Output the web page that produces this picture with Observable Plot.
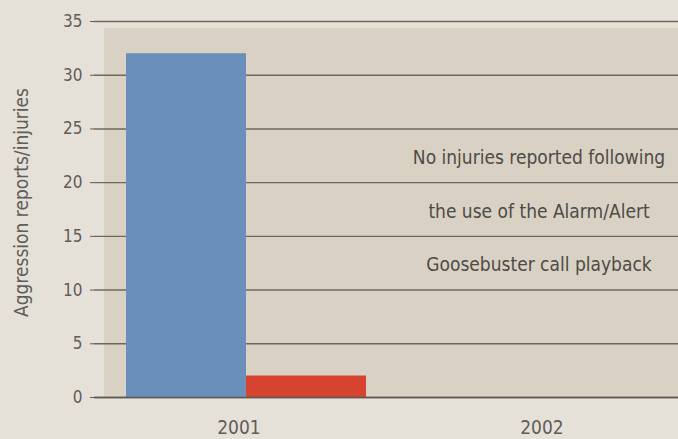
<!DOCTYPE html>
<html><head><meta charset="utf-8">
<script src="https://cdn.jsdelivr.net/npm/d3@7"></script>
<script src="https://cdn.jsdelivr.net/npm/@observablehq/plot@0.6"></script>
<style>
html,body{margin:0;padding:0;background:#e6e1d8;overflow:hidden;}
#chart{width:678px;height:439px;overflow:hidden;}
#chart svg{max-width:none !important;}
</style></head><body><div id="chart"></div>
<script>
const years = ["2001", "2002"];
const series = ["Aggression reports", "Injuries"];
const aggressionValues = [32, null];
const injuryValues = [2, null];
const yTicks = [0, 5, 10, 15, 20, 25, 30, 35];
const yLabel = "Aggression reports/injuries";
const notes = ["No injuries reported following", "the use of the Alarm/Alert", "Goosebuster call playback"];
const noteY = [22.5, 17.5, 12.5];
const seriesColors = ["#6a8fbb", "#d6432f"];

const data = [];
years.forEach((yr, i) => {
  if (aggressionValues[i] != null) data.push({year: yr, series: series[0], value: aggressionValues[i]});
  if (injuryValues[i] != null) data.push({year: yr, series: series[1], value: injuryValues[i]});
});
const noteData = notes.map((t, i) => ({year: years[1], text: t, y: noteY[i]}));

const font = "'DejaVu Sans Condensed', 'Liberation Sans Narrow', 'Open Sans', sans-serif";
const chart = Plot.plot({
  width: 700, height: 439,
  marginLeft: 94, marginRight: 0, marginTop: 21, marginBottom: 42,
  style: {background: "transparent", fontFamily: font, fontSize: "14px", color: "#5e5d58"},
  fx: {domain: years, padding: 0, label: null, tickSize: 0, tickPadding: 23},
  x: {domain: series, paddingInner: 0, paddingOuter: 0.2625, axis: null},
  y: {domain: [d3.min(yTicks), d3.max(yTicks)], ticks: yTicks, tickSize: 4, tickPadding: 8,
      label: yLabel, labelAnchor: "center", labelOffset: 80},
  color: {domain: series, range: seriesColors},
  marks: [
    Plot.rect(years.slice(0, 1), {fx: d => d, y1: d3.min(yTicks), y2: d3.max(yTicks), fill: "#d9d1c4", insetLeft: 10, insetRight: -2, insetTop: 7}),
    Plot.rect(years.slice(1), {fx: d => d, y1: d3.min(yTicks), y2: d3.max(yTicks), fill: "#d9d1c4", insetTop: 7}),
    Plot.ruleY(yTicks, {stroke: "#6c685f", strokeWidth: 1.4}),
    Plot.barY(data, {fx: "year", x: "series", y: "value", fill: "series"}),
    Plot.ruleY([d3.min(yTicks)], {stroke: "#5c5952", strokeWidth: 1.6}),
    Plot.text(noteData, {fx: "year", y: "y", text: "text", dx: -10, dy: 2, fontSize: 19, fill: "#4d4b46", fontFamily: font})
  ]
});
document.getElementById("chart").appendChild(chart);
const tickStrings = yTicks.map(String);
d3.select(chart).selectAll("text").each(function() {
  const t = this.textContent;
  if (years.includes(t)) d3.select(this).style("font-size", "19px").attr("dx", -7);
  else if (tickStrings.includes(t)) d3.select(this).style("font-size", "17px");
  else if (t.indexOf(yLabel) === 0) { this.textContent = yLabel; d3.select(this).style("font-size", "19px").attr("dx", 7); }
});
</script></body></html>
